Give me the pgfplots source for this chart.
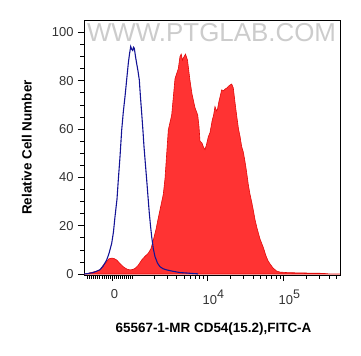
\documentclass[border=0pt]{standalone}
\usepackage{fontspec}
\setmainfont{Liberation Sans}
\usepackage{pgfplots}
\pgfplotsset{compat=1.18}
\definecolor{redfill}{RGB}{255,51,51}
\definecolor{redline}{RGB}{225,10,10}
\definecolor{blueline}{RGB}{20,20,150}
\begin{document}
\begin{tikzpicture}
\path[use as bounding box] (0,0) rectangle (361bp,356bp);
\begin{axis}[
  at={(84bp,81bp)}, anchor=south west,
  scale only axis, width=256bp, height=255bp,
  xmin=84, xmax=340, ymin=-0.41, ymax=105.1,
  axis line style={black, line width=0.8pt},
  tick align=outside, xtick pos=bottom, ytick pos=left,
  major tick length=6bp, minor tick length=3.5bp,
  tick style={black, line width=0.6pt},
  ytick={0,20,40,60,80,100}, minor y tick num=3,
  xtick={112,207.3,283.3},
  xticklabels={0,10\rlap{\raisebox{6.5bp}{\fontsize{12.5}{12}\selectfont 4}},10\rlap{\raisebox{6.5bp}{\fontsize{12.5}{12}\selectfont 5}}},
  minor xtick={87.4,89.5,91.5,93.5,95.6,97.6,99.7,101.8,103.8,105.9,107.9,110,114.1,116.1,118.2,120.2,122.3,124.3,126.4,128.4,130.5,132.6,153.8,167.2,176.7,184.1,190.1,195.2,199.6,203.5,230.2,243.6,253.1,260.5,266.6,271.7,276.1,279.9,306.2,319.6,329.1,336.4},
  /pgf/number format/assume math mode=true,
  yticklabel style={font=\fontsize{13}{14}\selectfont, text=black!80, xshift=-1bp},
  xticklabel style={font=\fontsize{13}{14}\selectfont, text=black!80, xshift=2.5bp, yshift=-5bp},
  xlabel={\textbf{65567-1-MR CD54(15.2),FITC-A}},
  ylabel={\textbf{Relative Cell Number}},
  xlabel style={font=\fontsize{13.5}{15}\selectfont, at={(axis description cs:0.506,-0.212)}, anchor=center},
  ylabel style={font=\fontsize{13.5}{15}\selectfont, at={(axis description cs:-0.223,0.5)}, anchor=center},
  clip=true,
]
\node[text=black!20, font=\fontsize{26}{26}\selectfont] at (axis description cs:0.498,0.949) {WWW.PTGLAB.COM};
\addplot[fill=redfill, draw=redline, line width=0.6pt] coordinates {
(84,0) (86,0) (90,0.5) (95,1) (100,1.7) (103,3.5) (106.7,5.1) (109,6.3) (111.7,6.6) (114,6.4) (116.7,5.8) (120,4.3) (123.3,3) (127,2) (130,1.7) (133,1.9) (135,2.3) (138,3.5) (141.7,5.8) (145,7.3) (148.3,8.6) (151,10.5) (153.3,14) (156,18.5) (158.3,23.2) (161,28.5) (163.3,33) (165,39.5) (168.3,59.6) (171.7,65.8) (175,80.8) (178.3,85) (180,90) (181.2,91) (182.5,88.5) (183.5,89.5) (185.5,91) (187.5,88.5) (190,80) (192,74.5) (195,68.8) (197.7,65.8) (199,61) (200,55) (202,54.2) (203.5,52.5) (205,51.5) (206.5,53.5) (208.3,56.8) (210,58.5) (212.3,63.8) (213.5,65.5) (215,69.3) (216.5,67.5) (217.5,68.2) (219,71.5) (221.7,76.2) (223.5,75.8) (225,76.5) (227,77) (228.3,77.6) (230,78.2) (231.7,78.6) (233.3,77) (235,71) (236.7,65.5) (238.5,60) (240,57) (241.7,52.7) (243.3,50.5) (245,46.5) (246.5,42.5) (248.3,37) (250,33) (251.7,29.8) (253.5,26) (255,22.5) (257,19) (260,14.5) (263.3,11) (266,7.5) (268,5.5) (270,4.2) (273,2.5) (276.7,1.2) (280,0.8) (286.7,0.6) (295,0.5) (300,0.5) (306.7,0.4) (313,0.3) (320,0.3) (325,0.2) (330,0) (340,0)
} \closedcycle;
\addplot[draw=blueline, line width=1.1pt, no marks] coordinates {
(84,0) (88,0.2) (92,0.5) (96,1) (100,1.8) (103,3.2) (106.7,5.8) (109,8.5) (111.7,12.7) (113.5,17.5) (115,23.7) (117,31) (118.3,38.9) (120,48.5) (121.7,59.6) (123.3,67) (125,73.4) (126.7,80.5) (128.3,87.2) (129.5,91) (130.7,94.1) (131.7,93) (132.7,92.5) (133.5,93.8) (134.3,93.4) (135.5,90) (136.7,87) (138,84) (139.3,80.3) (140.5,73) (141.7,66.5) (143,59) (144,52.7) (145.3,46) (146.7,38.9) (148,32) (149.3,25.2) (150.5,20) (151.7,15.4) (153.3,10.5) (155,7.2) (157.5,4.5) (160,3) (163,2.2) (166.7,1.7) (172,1.2) (180,0.6) (187,0.4) (193,0.2) (197,0.1) (198,0)
};
\end{axis}
\end{tikzpicture}
\end{document}
